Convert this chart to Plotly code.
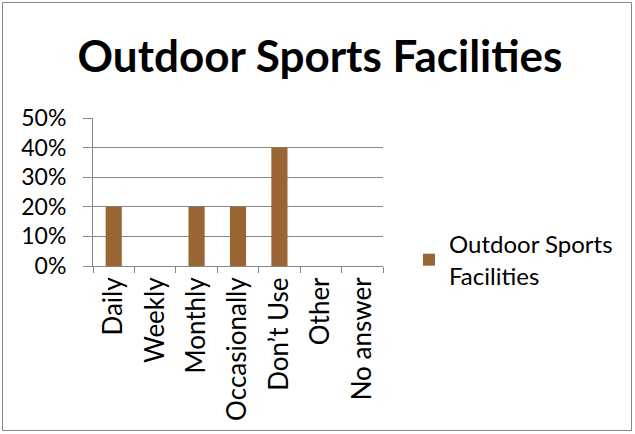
import plotly.graph_objects as go

# --- data ---
categories = ["Daily", "Weekly", "Monthly", "Occasionally", "Don\u2019t Use", "Other", "No answer"]
shares = [0.20, 0.0, 0.20, 0.20, 0.40, 0.0, 0.0]
series_name = "Outdoor Sports Facilities"

COLORS = {
    'bar': '#996633',
    'grid': '#868686',
    'text': '#000000',
    'border': '#868686',
}
FONT = "Lato"

W, H = 635, 434
M = dict(l=93, r=252, t=118, b=168)
pw = W - M['l'] - M['r']
ph = H - M['t'] - M['b']

fig = go.Figure()
fig.add_trace(go.Bar(
    x=categories, y=shares, name="Outdoor Sports<br>Facilities",
    marker=dict(color=COLORS['bar'], line=dict(width=0)),
    width=0.39, showlegend=True,
))

# chart border, in paper coords around the plot area
fig.add_shape(
    type="rect", xref="paper", yref="paper",
    x0=(2.5 - M['l']) / pw, x1=(W - 3.5 - M['l']) / pw,
    y0=-(H - 3.5 - M['t'] - ph) / ph, y1=1 + (M['t'] - 2.5) / ph,
    line=dict(color=COLORS['border'], width=1),
)

fig.update_layout(
    width=W, height=H,
    margin=M,
    paper_bgcolor='white', plot_bgcolor='white',
    font=dict(family=FONT, size=23, color=COLORS['text']),
    title=dict(text="<b>Outdoor Sports Facilities</b>", x=320 / W, xref="container",
               y=1 - 57 / H, yanchor="middle", xanchor="center",
               font=dict(size=44, family=FONT)),
    legend=dict(x=(409 - M['l']) / pw, y=(M['t'] + ph - 222) / ph, xanchor="left", yanchor="top",
                font=dict(size=24), itemwidth=30, tracegroupgap=0),
)
fig.update_xaxes(
    tickangle=-90, tickson="boundaries", ticks="outside", ticklen=6,
    tickcolor=COLORS['grid'], showline=True, linecolor=COLORS['grid'], linewidth=1,
    tickfont=dict(size=26), showgrid=False, ticklabelstandoff=0,
)
fig.update_yaxes(
    range=[0, 0.5], dtick=0.1, tickformat=".0%", ticks="outside", ticklen=9,
    tickcolor=COLORS['grid'], showline=True, linecolor=COLORS['grid'], linewidth=1,
    gridcolor=COLORS['grid'], gridwidth=1, zeroline=False, tickfont=dict(size=23),
    ticklabelstandoff=12,
)

fig.write_html("out.html", config={'displayModeBar': False},
               post_script="document.body.style.margin='0';")
